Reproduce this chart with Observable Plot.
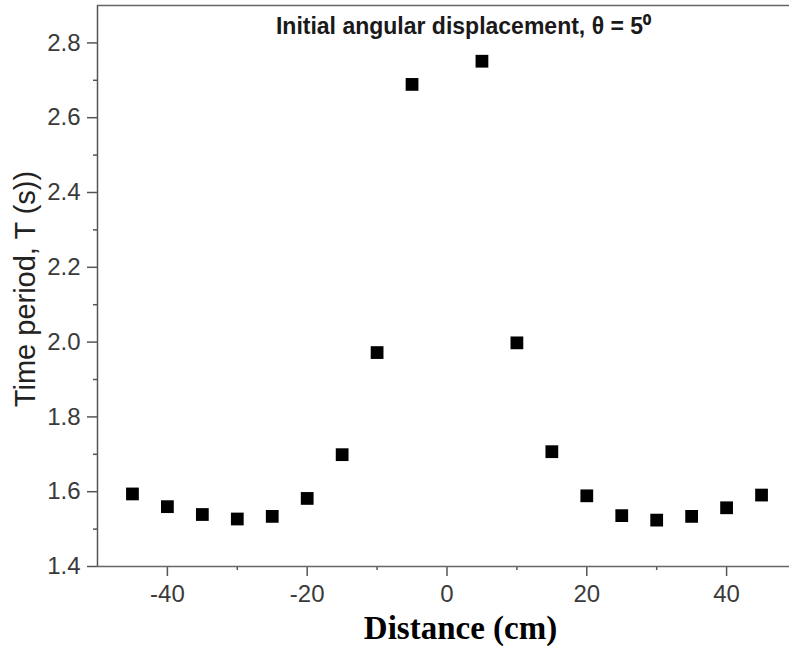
<!DOCTYPE html>
<html>
<head>
<meta charset="utf-8">
<script src="https://cdn.jsdelivr.net/npm/d3@7"></script>
<script src="https://cdn.jsdelivr.net/npm/@observablehq/plot@0.6"></script>
<style>
  html, body { margin: 0; padding: 0; background: #fff; }
  #chart svg { display: block; }
</style>
</head>
<body>
<div id="chart"></div>
<script>
const distance = [-45, -40, -35, -30, -25, -20, -15, -10, -5, 5, 10, 15, 20, 25, 30, 35, 40, 45];
const period = [1.594, 1.560, 1.539, 1.527, 1.534, 1.582, 1.699, 1.972, 2.689, 2.751, 1.998, 1.707, 1.589, 1.536, 1.524, 1.534, 1.557, 1.591];
const yTicks = [1.4, 1.6, 1.8, 2.0, 2.2, 2.4, 2.6, 2.8];
const yMinorTicks = [1.5, 1.7, 1.9, 2.1, 2.3, 2.5, 2.7];
const xTicks = [-40, -20, 0, 20, 40];
const xMinorTicks = [-30, -10, 10, 30];
const titleText = "Initial angular displacement, θ = 5⁰";
const xLabel = "Distance (cm)";
const yLabel = "Time period, T (s))";

const data = distance.map((d, i) => ({distance: d, period: period[i]}));

const chart = Plot.plot({
  width: 789,
  height: 650,
  marginLeft: 97,
  marginTop: 5,
  marginBottom: 84,
  marginRight: 0,
  x: {domain: [-50, 49]},
  y: {domain: [1.4, 2.9]},
  style: {fontFamily: "'Liberation Sans', Arial, sans-serif", background: "#fff", color: "#333"},
  marks: [
    Plot.axisY(yTicks, {tickSize: 10, tickPadding: 7, tickFormat: d => d.toFixed(1), fontSize: 24, label: null, stroke: "#555", strokeWidth: 1.5, fill: "#3a3a3a"}),
    Plot.axisY(yMinorTicks, {tickSize: 4, tickFormat: () => "", label: null, stroke: "#555", strokeWidth: 1.5}),
    Plot.axisX(xTicks, {tickSize: 10, tickPadding: 8, tickFormat: d => String(d), fontSize: 24, label: null, stroke: "#555", strokeWidth: 1.5, fill: "#3a3a3a"}),
    Plot.axisX(xMinorTicks, {tickSize: 4, tickFormat: () => "", label: null, stroke: "#555", strokeWidth: 1.5}),
    Plot.ruleX([-50], {stroke: "#555", strokeWidth: 1.5}),
    Plot.ruleY([1.4, 2.9], {stroke: "#666", strokeWidth: 1.5}),
    Plot.dot(data, {x: "distance", y: "period", symbol: "square", r: 7.2, fill: "#000", stroke: null}),
    Plot.text([titleText], {text: d => d, frameAnchor: "top", dx: 20, dy: 21, fontSize: 23, fontWeight: "bold", fill: "#1a1a1a", lineAnchor: "middle"}),
    Plot.text([xLabel], {text: d => d, frameAnchor: "bottom", dx: 17, dy: 62, fontSize: 33, fontWeight: "bold", fill: "#000", lineAnchor: "middle", fontFamily: "'Liberation Serif', 'Times New Roman', serif"}),
    Plot.text([yLabel], {text: d => d, frameAnchor: "left", dx: -72, dy: 3, rotate: -90, fontSize: 29, fill: "#222", lineAnchor: "middle", textAnchor: "middle"})
  ]
});

document.getElementById("chart").appendChild(chart);
</script>
</body>
</html>
